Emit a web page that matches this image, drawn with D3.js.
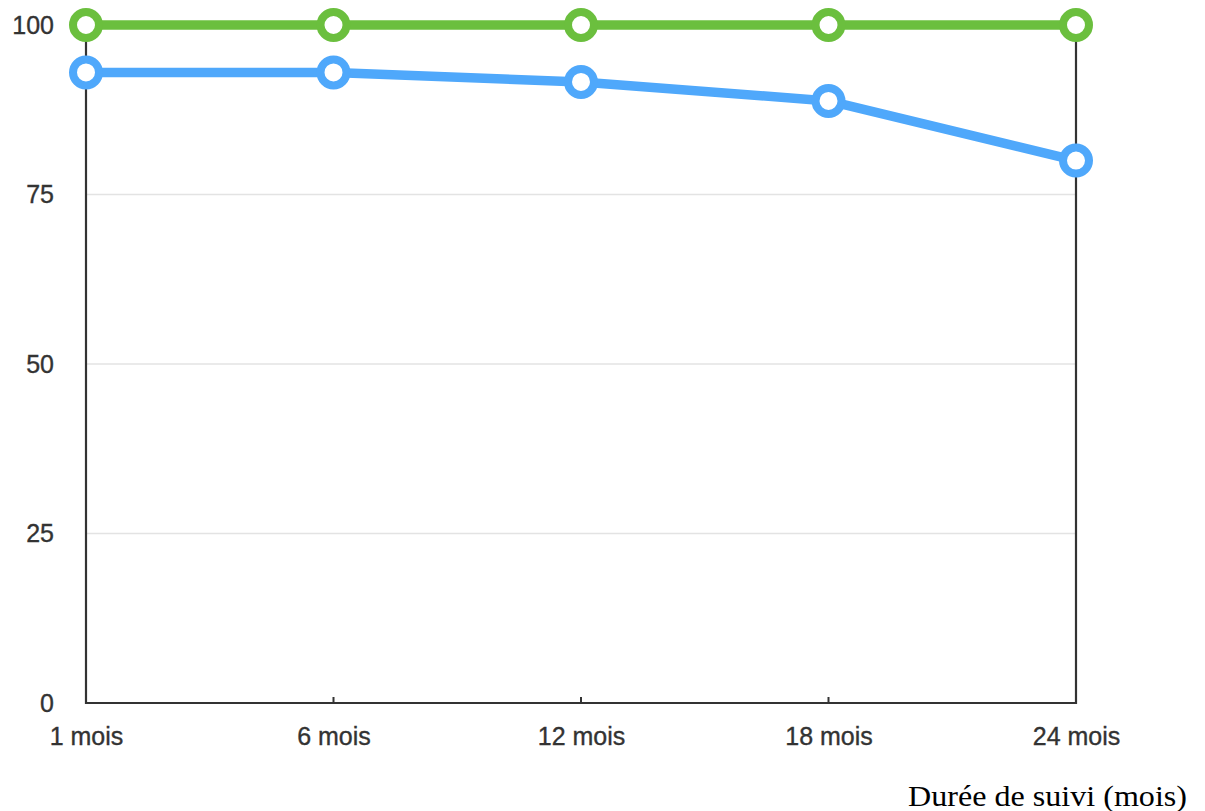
<!DOCTYPE html>
<html><head><meta charset="utf-8">
<script src="https://cdn.jsdelivr.net/npm/d3@7/dist/d3.min.js"></script>
<style>body{margin:0;background:#fff}svg{display:block}</style>
</head><body>
<svg id="c" width="1205" height="811"></svg>
<script>
const categories = ["1 mois","6 mois","12 mois","18 mois","24 mois"];
const greenValues = [100,100,100,100,100];
const blueValues = [93,93,91.6,88.8,80];
const yTicks = [0,25,50,75,100];
const xTitle = "Durée de suivi (mois)";

const svg = d3.select("#c");
const L=86, R=1076, T=25, B=703;
const x = d3.scalePoint().domain(categories).range([L,R]);
const y = d3.scaleLinear().domain([0,100]).range([B,T]);
const FONT = "'Liberation Sans', Arial, Helvetica, sans-serif";

// gridlines
svg.append("g").selectAll("line").data(yTicks.filter(d=>d>0 && d<100)).join("line")
  .attr("x1",L).attr("x2",R).attr("y1",d=>y(d)).attr("y2",d=>y(d))
  .attr("stroke","#e3e3e3").attr("stroke-width",1.3);

// y axis labels
const ya = svg.append("g").attr("transform",`translate(${L},0)`)
  .call(d3.axisLeft(y).tickValues(yTicks).tickSize(0).tickPadding(32));
ya.select(".domain").remove();
ya.selectAll("text").attr("font-family",FONT).attr("font-size",25).attr("fill","#333")
  .attr("stroke","#333").attr("stroke-width",0.35);

// x axis
const xa = svg.append("g").attr("transform",`translate(0,${B})`)
  .call(d3.axisBottom(x).tickSize(0).tickPadding(24));
xa.select(".domain").remove();
xa.selectAll("text").attr("font-family",FONT).attr("font-size",25).attr("fill","#333")
  .attr("stroke","#333").attr("stroke-width",0.35);

// inner ticks
svg.append("g").selectAll("line").data(categories.slice(1,-1)).join("line")
  .attr("x1",d=>x(d)).attr("x2",d=>x(d)).attr("y1",B).attr("y2",B-6)
  .attr("stroke","#333").attr("stroke-width",2);

// frame: left, bottom, right
svg.append("path")
  .attr("d",`M${L},${T}V${B}H${R}V${T}`)
  .attr("fill","none").attr("stroke","#333").attr("stroke-width",2.2);

const line = d3.line().x((d,i)=>x(categories[i])).y(d=>y(d));
function series(vals,color){
  svg.append("path").datum(vals).attr("d",line)
    .attr("fill","none").attr("stroke",color).attr("stroke-width",9.5).attr("stroke-linejoin","round");
  svg.append("g").selectAll("circle").data(vals).join("circle")
    .attr("cx",(d,i)=>x(categories[i])).attr("cy",d=>y(d)).attr("r",13)
    .attr("fill","#fff").attr("stroke",color).attr("stroke-width",8);
}
series(blueValues,"#4fa8fb");
series(greenValues,"#6bbf3e");

svg.append("text").attr("x",1187).attr("y",806).attr("text-anchor","end")
  .attr("font-family","'Liberation Serif', 'Times New Roman', serif").attr("font-size",29).attr("fill","#000")
  .attr("textLength",279).attr("lengthAdjust","spacingAndGlyphs")
  .text(xTitle);
</script>
</body></html>
